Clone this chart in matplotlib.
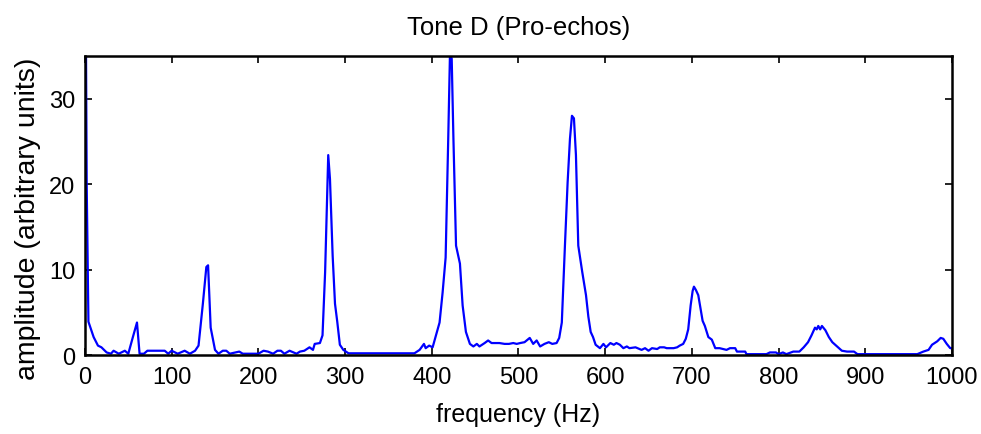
import matplotlib.pyplot as plt
import numpy as np

plt.rcParams['font.family'] = ['Liberation Sans', 'DejaVu Sans']

# spectrum (Hz, arbitrary units), one row per stretch
freq = [0, 2, 4, 10, 15, 19, 25, 30, 33, 39, 46, 50, 55, 60, 63, 68,
        72, 85, 92, 96, 100, 107, 115, 121, 127, 131, 136, 140, 142, 145, 150, 154, 159, 163, 167,
        178, 182, 200, 206, 211, 217, 222, 226, 230, 236, 244, 248, 253, 259, 263, 265, 271, 274,
        277, 280.6, 282.6, 285.7, 288.4, 291, 294, 298, 304,
        380, 386, 391, 393, 397, 401, 404, 409, 412.5, 416, 419, 421, 423, 425, 428, 432.5,
        435.6, 439.4, 444,
        448, 452, 455, 461, 465, 469, 478, 484, 489, 494, 498, 502, 507, 513, 517, 521, 525,
        530, 535, 539, 544, 547,
        550, 553.6, 556.7, 559.4, 561.7, 564, 566.3, 569, 573.6, 577.9, 580.6, 583.3, 586,
        589, 594, 598, 601,
        606, 610, 613, 617, 621, 625, 628, 635, 642, 646, 650, 654, 660, 663, 668, 671, 679,
        683, 686, 690,
        693, 695.8, 698.6, 700.9, 702.4, 704.7, 707.4, 710, 712.4, 715, 719, 723, 727, 732,
        740, 744, 750, 752, 761.5, 763,
        786, 790, 797, 800, 805, 809, 817, 824, 829, 834, 838, 842, 844, 845.8, 848, 850, 854,
        858, 862, 867.5, 873, 879, 883, 887, 891,
        960, 967, 973, 977, 983, 987, 990, 994, 998, 1000]
amp = [60, 20, 3.9, 2.1, 1.1, 0.9, 0.3, 0.15, 0.5, 0.15, 0.5, 0.15, 2.0, 3.8, 0.15, 0.15,
       0.5, 0.5, 0.5, 0.15, 0.5, 0.15, 0.5, 0.15, 0.5, 1.1, 6.0, 10.3, 10.5, 3.2, 0.6, 0.15, 0.5, 0.5, 0.15,
       0.4, 0.15, 0.15, 0.5, 0.4, 0.15, 0.5, 0.5, 0.15, 0.5, 0.15, 0.4, 0.5, 0.9, 0.6, 1.3, 1.4, 2.3,
       9.7, 23.4, 20.6, 11.6, 6.0, 3.9, 1.2, 0.6, 0.2,
       0.2, 0.6, 1.3, 0.8, 1.1, 0.9, 2.0, 3.8, 7.3, 11.4, 25.3, 35.2, 34.7, 25.3, 12.8, 10.7,
       5.8, 2.7, 1.3,
       1.0, 1.3, 1.0, 1.4, 1.7, 1.4, 1.4, 1.3, 1.3, 1.4, 1.3, 1.4, 1.5, 2.0, 1.3, 1.7, 1.0,
       1.3, 1.5, 1.3, 1.4, 2.0,
       3.8, 12.8, 20.2, 25.3, 28.0, 27.7, 23.4, 12.8, 9.7, 7.0, 4.5, 2.7, 2.1,
       1.2, 0.8, 1.3, 0.9,
       1.4, 1.2, 1.4, 1.2, 0.8, 1.0, 0.8, 0.9, 0.6, 0.8, 0.5, 0.8, 0.7, 0.9, 0.9, 0.8, 0.8,
       0.9, 1.1, 1.3,
       1.9, 3.0, 5.8, 7.5, 8.0, 7.6, 7.0, 5.4, 4.0, 3.4, 2.1, 1.8, 0.8, 0.8,
       0.6, 0.8, 0.8, 0.4, 0.4, 0.1,
       0.1, 0.3, 0.3, 0.1, 0.3, 0.1, 0.4, 0.4, 0.9, 1.5, 2.3, 3.2, 3.0, 3.4, 3.0, 3.4, 2.9,
       2.1, 1.5, 1.0, 0.5, 0.4, 0.4, 0.4, 0.1,
       0.1, 0.4, 0.6, 1.2, 1.6, 2.0, 1.9, 1.3, 0.8, 0.8]

fig = plt.figure(figsize=(9.81, 4.35), dpi=100)
ax = fig.add_axes([0.0866, 0.1816, 0.8838, 0.6874])

ax.plot(freq, amp, color='#0000ff', linewidth=1.6)

ax.set_xlim(0, 1000)
ax.set_ylim(0, 35)
ax.set_xticks(np.arange(0, 1001, 100))
ax.set_yticks([0, 10, 20, 30])
ax.tick_params(direction='in', top=True, right=True, length=5, width=1.2,
               labelsize=17)
ax.tick_params(axis='x', pad=8)
ax.tick_params(axis='y', pad=7)
for s in ax.spines.values():
    s.set_linewidth(1.8)

ax.set_xlabel('frequency (Hz)', fontsize=18, labelpad=10)
ax.set_ylabel('amplitude (arbitrary units)', fontsize=20.5)
ax.yaxis.set_label_coords(-0.051, 0.46)
ax.set_title('Tone D (Pro-echos)', fontsize=18.5, pad=16)

plt.savefig('out.png', dpi=100)
